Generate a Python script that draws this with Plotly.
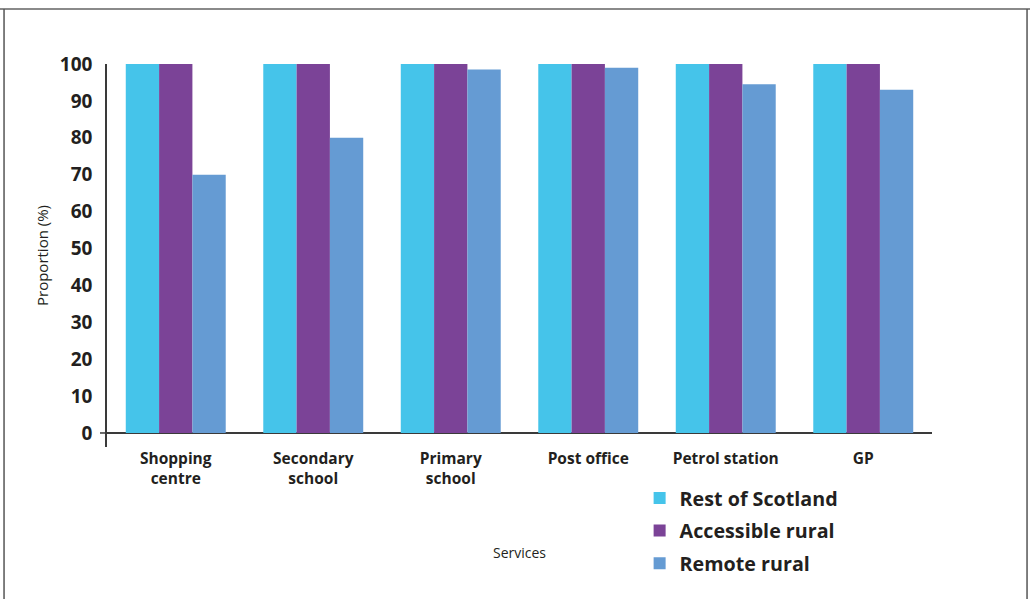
import plotly.graph_objects as go

categories = ["Shopping<br>centre", "Secondary<br>school", "Primary<br>school",
              "Post office", "Petrol station", "GP"]
rest_of_scotland = [100, 100, 100, 100, 100, 100]
accessible_rural = [100, 100, 100, 100, 100, 100]
remote_rural = [70, 80, 98.5, 99, 94.5, 93]
series_names = ["Rest of Scotland", "Accessible rural", "Remote rural"]
series_colors = ["#45C4EA", "#7B4397", "#659BD3"]
y_ticks = [0, 10, 20, 30, 40, 50, 60, 70, 80, 90, 100]

FONT = "Open Sans"
TXT = "#231F20"
fig = go.Figure()
for name, vals, col in zip(series_names, [rest_of_scotland, accessible_rural, remote_rural], series_colors):
    fig.add_trace(go.Bar(x=categories, y=vals, name=name, legendgroup=name,
                         marker=dict(color=col, line=dict(width=0))))

fig.update_layout(
    width=1030, height=599,
    barmode="group", bargap=0.273, bargroupgap=0,
    plot_bgcolor="white", paper_bgcolor="white",
    margin=dict(l=107, r=98, t=64, b=152),
    font=dict(family=FONT, color=TXT),
    showlegend=True,
    legend=dict(x=0.6456, y=-0.0826, xanchor="left", yanchor="top",
                font=dict(family=FONT, size=19.7, color=TXT, weight="bold"),
                tracegroupgap=4, itemwidth=30, bgcolor="rgba(0,0,0,0)"),
)
fig.update_yaxes(
    range=[-3.8, 100], tickvals=y_ticks, ticktext=[str(v) for v in y_ticks],
    showgrid=False, showline=True, linecolor="#3a3a3a", linewidth=1.5,
    zeroline=True, zerolinecolor="#3a3a3a", zerolinewidth=1.5,
    ticks="", ticklabelstandoff=9,
    tickfont=dict(family=FONT, size=19, color=TXT, weight="bold"),
    title=dict(text="Proportion (%)", font=dict(family=FONT, size=15, color=TXT), standoff=8),
)
fig.update_xaxes(
    showgrid=False, showline=False, ticks="", zeroline=False,
    tickfont=dict(family=FONT, size=15.5, color=TXT, weight="bold"),
    title=dict(text="Services", font=dict(family=FONT, size=14, color=TXT), standoff=60),
)
# tick at zero extending left of axis
fig.add_shape(type="line", xref="paper", yref="y", x0=-0.0085, x1=0, y0=0, y1=0,
              line=dict(color="#3a3a3a", width=1.5))
# outer frame lines
fig.add_shape(type="line", xref="paper", yref="paper", x0=-0.14, x1=1.14, y0=1.1436, y1=1.1436,
              line=dict(color="#8a8a8a", width=2))
fig.add_shape(type="line", xref="paper", yref="paper", x0=-0.1248, x1=-0.1248, y0=1.1436, y1=-0.42,
              line=dict(color="#555555", width=1.5))
fig.add_shape(type="line", xref="paper", yref="paper", x0=1.1152, x1=1.1152, y0=1.1436, y1=-0.42,
              line=dict(color="#555555", width=1.5))

fig.write_html("out.html", config={"displayModeBar": False},
               post_script="document.body.style.margin='0';")
